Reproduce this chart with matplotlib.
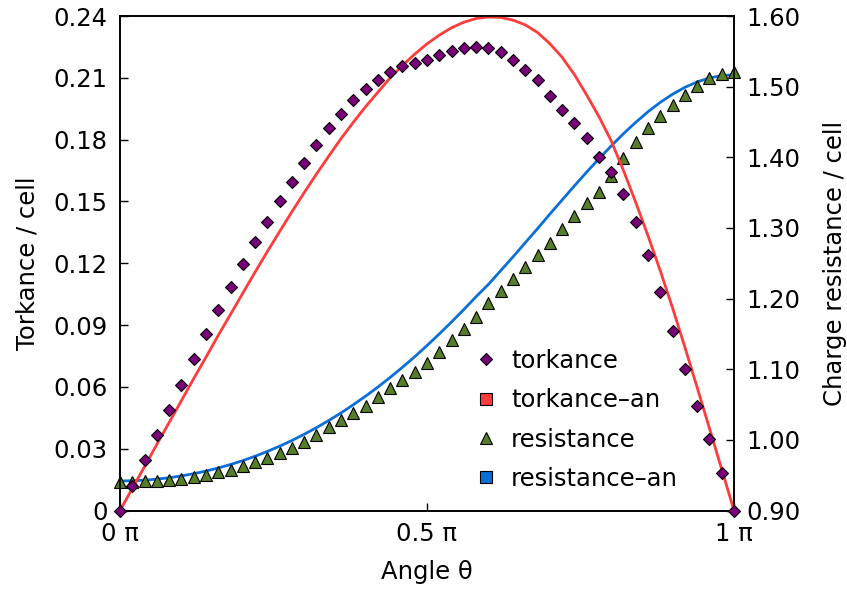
import matplotlib
matplotlib.use("Agg")
import matplotlib.pyplot as plt
from matplotlib.lines import Line2D

plt.rcParams['font.family'] = ['DejaVu Sans']

# angle in units of pi (51 samples from 0 to 1)
theta = [i / 50 for i in range(51)]

torkance = [0, 0.0120, 0.0243, 0.0366, 0.0487, 0.0611, 0.0735, 0.0858, 0.0975, 0.1087,
            0.1194, 0.1301, 0.1402, 0.1501, 0.1595, 0.1687, 0.1773, 0.1854, 0.1925, 0.1990,
            0.2044, 0.2091, 0.2129, 0.2157, 0.2174, 0.2186, 0.2209, 0.2231, 0.2246, 0.2251,
            0.2245, 0.2226, 0.2188, 0.2137, 0.2089, 0.2011, 0.1943, 0.1879, 0.1807, 0.1717,
            0.1642, 0.1537, 0.1402, 0.1240, 0.1059, 0.0873, 0.0685, 0.0507, 0.0346, 0.0181, 0]

torkance_an = [0, 0.0107, 0.0213, 0.0321, 0.0427, 0.0533, 0.0640, 0.0744, 0.0850, 0.0952,
               0.1055, 0.1157, 0.1257, 0.1354, 0.1450, 0.1543, 0.1633, 0.1720, 0.1805, 0.1884,
               0.1960, 0.2030, 0.2100, 0.2160, 0.2215, 0.2265, 0.2307, 0.2343, 0.2370, 0.2388,
               0.2395, 0.2393, 0.2380, 0.2357, 0.2320, 0.2266, 0.2200, 0.2116, 0.2017, 0.1912,
               0.1794, 0.1650, 0.1495, 0.1333, 0.1163, 0.0983, 0.0793, 0.0597, 0.0399, 0.0200, 0]

resistance = [0.9406, 0.9406, 0.9413, 0.9418, 0.9432, 0.9446, 0.9471, 0.9505, 0.9542, 0.9580,
              0.9630, 0.9684, 0.9746, 0.9814, 0.9888, 0.9967, 1.0062, 1.0175, 1.0284, 1.0383,
              1.0486, 1.0604, 1.0727, 1.0845, 1.0965, 1.1091, 1.1241, 1.1407, 1.1574, 1.1744,
              1.1933, 1.2112, 1.2284, 1.2451, 1.2621, 1.2791, 1.2981, 1.3173, 1.3349, 1.3509,
              1.3740, 1.3990, 1.4214, 1.4415, 1.4585, 1.4747, 1.4886, 1.5007, 1.5118, 1.5186, 1.5212]

resistance_an = [0.9418, 0.9421, 0.9429, 0.9444, 0.9464, 0.9489, 0.9521, 0.9558, 0.9602, 0.9651,
                 0.9706, 0.9768, 0.9836, 0.9910, 0.9991, 1.0079, 1.0173, 1.0274, 1.0382, 1.0497,
                 1.0619, 1.0748, 1.0884, 1.1027, 1.1177, 1.1335, 1.1499, 1.1669, 1.1845, 1.2028,
                 1.2200, 1.2395, 1.2590, 1.2790, 1.2990, 1.3195, 1.3395, 1.3595, 1.3790, 1.3980,
                 1.4160, 1.4334, 1.4495, 1.4645, 1.4778, 1.4893, 1.4990, 1.5067, 1.5123, 1.5157, 1.5168]

xticks = [0, 0.5, 1]
xtick_labels = ['0 π', '0.5 π', '1 π']
yticks_left = [0, 0.03, 0.06, 0.09, 0.12, 0.15, 0.18, 0.21, 0.24]
ytick_left_labels = ['0', '0.03', '0.06', '0.09', '0.12', '0.15', '0.18', '0.21', '0.24']
yticks_right = [0.90, 1.00, 1.10, 1.20, 1.30, 1.40, 1.50, 1.60]
ytick_right_labels = ['0.90', '1.00', '1.10', '1.20', '1.30', '1.40', '1.50', '1.60']

C_TORK = '#7a007a'
C_TORK_AN = '#ff3b3b'
C_RES = '#567d28'
C_RES_AN = '#0a6fd6'

fig = plt.figure(figsize=(8.47, 5.91), dpi=100)
ax = fig.add_axes([120 / 847, 1 - 510.5 / 591, 614 / 847, 494.5 / 591])
ax2 = ax.twinx()
ax.set_zorder(ax2.get_zorder() + 1)
ax.patch.set_visible(False)

ax2.plot(theta, resistance_an, color=C_RES_AN, lw=2.0, zorder=2, clip_on=False)
ax2.plot(theta, resistance, ls='none', marker='^', ms=8.8, mfc=C_RES, mec='black',
         mew=0.8, zorder=3, clip_on=False)
ax.plot(theta, torkance_an, color=C_TORK_AN, lw=2.0, zorder=2, clip_on=False)
ax.plot(theta, torkance, ls='none', marker='D', ms=6.3, mfc=C_TORK, mec='black',
        mew=0.8, zorder=3, clip_on=False)

ax.set_xlim(0, 1)
ax.set_ylim(0, 0.24)
ax2.set_ylim(0.90, 1.60)

ax.set_xticks(xticks)
ax.set_xticklabels(xtick_labels)
ax.set_yticks(yticks_left)
ax.set_yticklabels(ytick_left_labels)
ax2.set_yticks(yticks_right)
ax2.set_yticklabels(ytick_right_labels)

fs = 17.5
ax.tick_params(axis='both', direction='in', length=6, width=1, labelsize=fs, color='black')
ax.tick_params(axis='y', pad=9)
ax.tick_params(axis='x', pad=8)
ax2.tick_params(axis='y', direction='in', length=6, width=1, labelsize=fs, pad=9)

for a in (ax, ax2):
    for s in a.spines.values():
        s.set_linewidth(1.2)
        s.set_color('black')

ax.set_xlabel('Angle θ', fontsize=fs, labelpad=10)
ax.set_ylabel('Torkance / cell', fontsize=fs, labelpad=10)
ax2.set_ylabel('Charge resistance / cell', fontsize=fs, labelpad=16)

handles = [
    Line2D([], [], ls='none', marker='D', ms=6.3, mfc=C_TORK, mec='black', mew=0.8),
    Line2D([], [], ls='none', marker='s', ms=8.5, mfc=C_TORK_AN, mec='black', mew=0.8),
    Line2D([], [], ls='none', marker='^', ms=8.8, mfc=C_RES, mec='black', mew=0.8),
    Line2D([], [], ls='none', marker='s', ms=8.5, mfc=C_RES_AN, mec='black', mew=0.8),
]
labels = ['torkance', 'torkance–an', 'resistance', 'resistance–an']
ax.legend(handles, labels, loc='lower left', bbox_to_anchor=(0.56, 0.02), frameon=False,
          fontsize=fs, handlelength=1.0, handletextpad=0.55, labelspacing=0.63,
          borderaxespad=0)

fig.savefig('out.png', dpi=100)
